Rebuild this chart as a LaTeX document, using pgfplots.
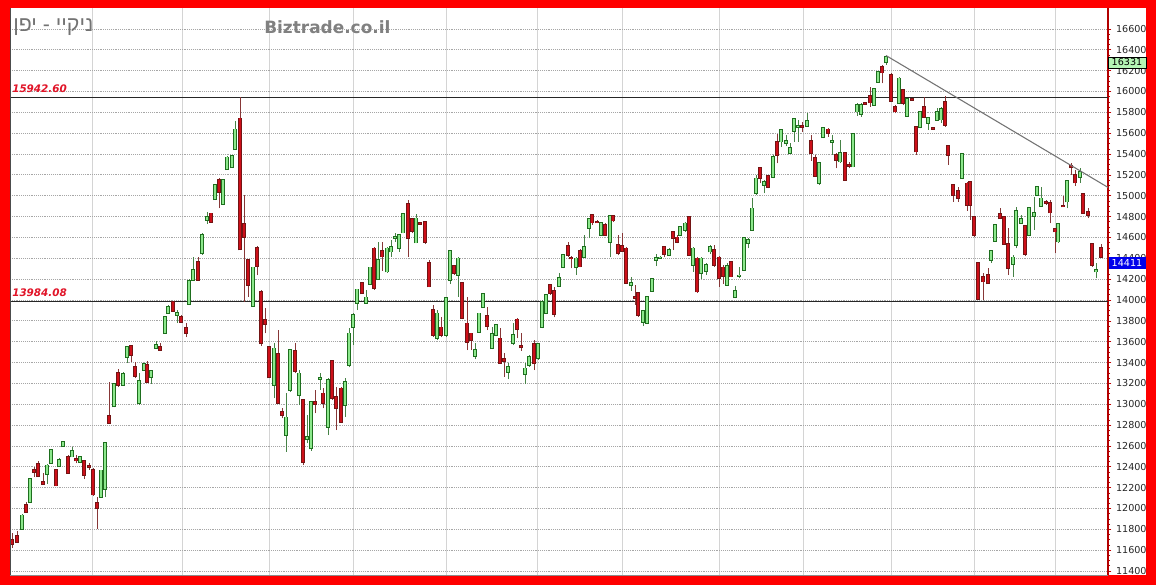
\documentclass[border=0pt]{standalone}
\usepackage{pgfplots}
\pgfplotsset{compat=1.18}
\usepackage{pgfplotstable}
\usepackage{fontspec}
\setmainfont{DejaVu Sans}
\newfontfamily\hebfont[Script=Hebrew]{Liberation Sans}
\TeXXeTstate=1
\definecolor{gfill}{RGB}{140,232,140}
\definecolor{gdark}{RGB}{30,110,30}
\definecolor{gwick}{RGB}{70,130,70}
\definecolor{rfill}{RGB}{205,15,25}
\definecolor{rdark}{RGB}{115,20,20}
\definecolor{rwick}{RGB}{135,55,55}
\definecolor{frame}{RGB}{255,0,0}
\definecolor{labred}{RGB}{225,20,40}
\definecolor{boxgreen}{RGB}{180,245,180}
\definecolor{boxblue}{RGB}{0,0,235}

\pgfplotstableread{
t o h l c
22 11806 11943 11800 11933
30 12063 12292 12060 12282
47 12330 12425 12238 12413
51 12435 12571 12429 12565
59 12403 12483 12397 12467
63 12597 12648 12594 12638
72 12498 12594 12492 12553
80 12449 12505 12442 12498
101 12111 12371 12102 12365
105 12187 12638 12108 12632
114 12979 13200 12970 13194
123 13184 13308 13175 13288
127 13453 13550 13395 13549
139 13012 13299 12993 13223
144 13328 13395 13319 13386
151 13261 13328 13194 13319
156 13539 13606 13530 13568
165 13683 13846 13674 13837
168 13875 13952 13875 13933
177 13856 13904 13779 13875
189 13961 14198 13952 14185
193 14191 14415 14185 14287
202 14447 14639 14432 14623
207 14767 14847 14729 14799
215 14965 15113 14959 15103
223 14920 15157 14911 15151
227 15253 15381 15247 15368
232 15272 15390 15265 15381
235 15445 15720 15439 15637
253 13942 14319 13936 14313
274 13184 13584 13056 13536
286 12704 13104 12544 12874
290 13136 13525 13120 13520
299 13088 13328 12992 13296
307 12662 12896 12625 12688
311 12576 13034 12554 13024
320 13241 13296 13136 13254
328 12784 13248 12704 13232
345 12992 13248 12880 13216
349 13376 13728 13354 13680
353 13744 13872 13568 13856
357 13974 14108 13904 14102
366 13974 14095 13968 14025
370 14153 14320 14145 14313
378 14198 14559 14192 14383
387 14272 14511 14262 14495
391 14464 14575 14415 14511
395 14592 14639 14559 14607
399 14495 14633 14464 14623
403 14646 14838 14639 14825
416 14550 14825 14543 14783
437 13632 13904 13616 13872
446 13664 14025 13642 14016
450 14192 14479 14153 14473
458 14240 14415 14032 14399
475 13463 13584 13430 13520
479 13696 13878 13688 13872
483 13936 14063 13929 14057
492 13536 13744 13526 13674
496 13664 13770 13650 13760
508 13312 13392 13239 13360
513 13584 13776 13568 13664
525 13290 13398 13194 13344
529 13376 13472 13360 13456
538 13440 13590 13425 13578
542 13744 14000 13728 13984
546 13878 14057 13865 14048
559 14134 14256 14128 14208
563 14313 14441 14304 14432
576 14313 14415 14240 14399
584 14409 14623 14399 14511
589 14687 14783 14591 14774
601 14623 14751 14614 14742
610 14559 14815 14409 14806
631 14141 14217 14089 14166
643 13792 13904 13750 13894
647 13782 14040 13770 14032
652 14089 14214 14080 14204
656 14384 14441 14326 14400
660 14403 14420 14395 14409
669 14432 14495 14422 14480
680 14623 14710 14614 14703
685 14671 14751 14655 14735
693 14336 14511 14272 14495
701 14256 14415 14198 14399
706 14281 14352 14240 14336
710 14464 14527 14441 14511
727 14144 14358 14134 14326
735 14025 14134 14016 14089
739 14230 14313 14208 14235
744 14288 14608 14281 14592
748 14544 14591 14495 14575
752 14671 14975 14665 14879
756 15029 15199 15007 15167
764 15103 15151 15023 15135
773 15183 15391 15167 15375
781 15519 15637 15471 15631
786 15509 15583 15477 15528
790 15413 15503 15407 15455
794 15624 15743 15519 15733
798 15656 15727 15519 15669
807 15669 15797 15660 15720
819 15119 15327 15103 15311
823 15560 15663 15550 15653
832 15515 15583 15391 15528
840 15327 15535 15317 15407
853 15279 15599 15273 15592
857 15807 15893 15765 15870
861 15784 15887 15759 15870
874 15870 16030 15861 16021
878 16094 16200 16085 16190
886 16280 16331 16255 16331
899 15886 16136 15880 16126
907 15765 15935 15759 15925
920 15656 15816 15647 15807
928 15701 15759 15631 15743
937 15727 15839 15720 15807
941 15730 15850 15700 15830
962 15167 15407 15158 15401
991 14384 14480 14358 14470
995 14569 14730 14560 14720
1013 14345 14431 14224 14409
1016 14528 14896 14496 14857
1021 14736 14815 14730 14774
1029 14624 14890 14614 14880
1034 14806 14991 14672 14838
1037 15007 15094 14998 15087
1041 14902 15087 14896 14975
1058 14560 14736 14550 14729
1067 14944 15152 14880 15145
1080 15183 15263 15126 15231
1096 14272 14352 14208 14292
}\greencandles

\pgfplotstableread{
t o h l c
12 11695 11762 11625 11657
17 11736 11784 11670 11679
26 12038 12067 11959 11968
34 12371 12397 12301 12349
38 12428 12460 12301 12308
43 12257 12340 12235 12238
56 12368 12378 12212 12219
68 12498 12514 12333 12340
76 12476 12514 12432 12459
84 12460 12467 12282 12323
89 12406 12435 12371 12394
93 12371 12387 12124 12133
97 12054 12111 11806 12000
109 12887 13213 12815 12820
118 13299 13338 13165 13184
131 13561 13565 13405 13474
135 13357 13405 13250 13271
147 13376 13415 13203 13213
160 13549 13587 13510 13520
173 13981 13990 13885 13894
181 13837 13856 13779 13789
186 13731 13779 13645 13683
198 14367 14415 14185 14191
211 14831 14837 14745 14751
219 15151 15167 14879 15039
240 15742 15943 14479 14485
244 14728 15007 13983 14607
248 14383 14390 14032 14143
257 14501 14517 14239 14325
261 14079 14095 13558 13584
265 13808 13920 13680 13766
269 13552 13560 13248 13257
278 13481 13712 13008 13014
282 12928 12960 12864 12896
295 13513 13584 13296 13321
303 13040 13046 12416 12448
315 13020 13136 12912 13000
323 13104 13152 12960 13014
332 13417 13425 13040 13056
336 13072 13168 12752 12960
341 13152 13170 12820 12832
362 14160 14176 14057 14063
374 14495 14505 14100 14112
382 14470 14559 14281 14416
408 14921 14959 14415 14591
412 14774 14783 14639 14665
420 14738 14751 14719 14726
425 14751 14761 14537 14559
429 14352 14384 14121 14128
433 13904 13952 13648 13664
441 13737 13840 13642 13664
454 14326 14336 14240 14262
462 14160 14166 13814 13824
467 13776 14025 13520 13600
471 13680 13686 13520 13616
487 13846 13936 13712 13750
500 13632 13728 13392 13398
504 13434 13494 13264 13418
517 13814 13824 13632 13718
521 13558 13680 13514 13545
534 13578 13616 13328 13392
550 14144 14154 14048 14064
554 14086 14128 13834 13865
568 14518 14559 14415 14431
571 14406 14422 14304 14397
580 14473 14486 14313 14320
592 14815 14825 14720 14742
597 14751 14767 14735 14742
605 14719 14735 14614 14623
613 14806 14815 14751 14761
618 14527 14623 14431 14447
622 14518 14646 14463 14473
626 14495 14511 14153 14166
635 14032 14144 13952 14016
638 14064 14070 13840 13856
664 14511 14518 14409 14441
673 14655 14665 14479 14591
677 14601 14623 14543 14559
689 14799 14806 14422 14431
697 14399 14409 14070 14080
714 14480 14527 14320 14336
719 14409 14422 14128 14208
723 14313 14336 14153 14230
731 14367 14377 14218 14224
760 15263 15279 15119 15167
768 15189 15199 15071 15087
777 15519 15592 15311 15391
802 15672 15711 15615 15662
811 15528 15583 15336 15413
815 15359 15391 15183 15189
828 15637 15647 15567 15605
836 15391 15407 15263 15343
845 15407 15413 15145 15151
849 15298 15327 15263 15285
865 15887 15900 15875 15880
870 15957 16040 15854 15893
882 16238 16254 16078 16181
891 16158 16174 15902 15912
895 15854 15870 15791 15807
903 16014 16021 15870 15886
912 15925 15935 15910 15918
916 15663 15669 15391 15423
924 15854 15944 15743 15752
933 15653 15660 15640 15643
945 15900 15960 15660 15680
948 15478 15487 15295 15391
953 15103 15113 14943 15007
958 15049 15087 14943 14975
967 15119 15135 14857 14912
970 15135 15145 14768 14912
974 14793 14800 14608 14624
978 14352 14358 14000 14006
983 14218 14256 14000 14176
988 14240 14304 14154 14160
1000 14825 14879 14774 14784
1004 14793 14800 14528 14537
1008 14537 14688 14240 14304
1025 14710 14720 14422 14441
1046 14944 14960 14912 14928
1050 14934 14960 14736 14838
1055 14678 14688 14448 14656
1063 14902 14998 14890 14896
1071 15286 15318 15199 15273
1075 15199 15247 15094 15126
1083 15017 15023 14825 14832
1088 14848 14880 14784 14816
1092 14537 14545 14320 14336
1101 14496 14537 14410 14411
}\redcandles

\begin{document}
\begin{tikzpicture}[x=1pt,y=1pt]
\useasboundingbox (0,0) rectangle (867,438.75);
\fill[frame] (0,0) rectangle (867,438.75);
\fill[white] (7.5,7.5) rectangle (859.5,432.75);
\begin{axis}[
  at={(7.5pt,7.5pt)}, anchor=south west, scale only axis,
  width=823.5pt, height=425.25pt,
  xmin=10, xmax=1108, ymin=11362, ymax=16801,
  axis x line*=bottom, axis y line*=right,
  x axis line style={draw=black!45, line width=0.6pt},
  y axis line style={draw=red!70!black, line width=0.8pt},
  xtick={92,182,269,353,446,537,622,719,803,891,974,1055},
  xticklabels={},
  major x tick style={draw=none},
  ytick={11400,11600,...,16600},
  scaled y ticks=false,
  minor y tick num=3,
  tick align=outside,
  major tick length=2.5pt, minor tick length=1.5pt,
  y tick style={draw=red!75!black, line width=0.5pt},
  yticklabel style={font=\fontsize{7.2}{8}\selectfont, text=black!85,
    /pgf/number format/fixed, /pgf/number format/1000 sep={}, /pgf/number format/assume math mode=true},
  grid=major,
  major x grid style={draw=black!17, line width=0.6pt},
  major y grid style={draw=black!35, densely dotted, line width=0.6pt},
]
% reference lines
\addplot[black!85, line width=0.8pt, forget plot] coordinates {(10,15942.6) (1108,15942.6)};
\addplot[black!85, line width=0.8pt, forget plot] coordinates {(10,13984.08) (1108,13984.08)};
% wicks
\addplot[draw=none, forget plot, error bars/.cd, y dir=plus, y explicit, error mark=none,
  error bar style={draw=gwick, line width=0.6pt}]
  table[x=t, y=l, y error plus expr=\thisrow{h}-\thisrow{l}] \greencandles;
\addplot[draw=none, forget plot, error bars/.cd, y dir=plus, y explicit, error mark=none,
  error bar style={draw=rwick, line width=0.6pt}]
  table[x=t, y=l, y error plus expr=\thisrow{h}-\thisrow{l}] \redcandles;
% bodies outline
\addplot[draw=none, forget plot, error bars/.cd, y dir=plus, y explicit, error mark=none,
  error bar style={draw=gdark, line width=2.9pt}]
  table[x=t, y expr=\thisrow{o}-8, y error plus expr=\thisrow{c}-\thisrow{o}+16] \greencandles;
\addplot[draw=none, forget plot, error bars/.cd, y dir=plus, y explicit, error mark=none,
  error bar style={draw=rdark, line width=2.9pt}]
  table[x=t, y expr=\thisrow{c}-8, y error plus expr=\thisrow{o}-\thisrow{c}+16] \redcandles;
% bodies fill
\addplot[draw=none, forget plot, error bars/.cd, y dir=plus, y explicit, error mark=none,
  error bar style={draw=gfill, line width=1.7pt}]
  table[x=t, y=o, y error plus expr=\thisrow{c}-\thisrow{o}] \greencandles;
\addplot[draw=none, forget plot, error bars/.cd, y dir=plus, y explicit, error mark=none,
  error bar style={draw=rfill, line width=1.7pt}]
  table[x=t, y=c, y error plus expr=\thisrow{o}-\thisrow{c}] \redcandles;
% trend line
\addplot[black!55, line width=0.8pt, forget plot] coordinates {(886,16345) (1108,15080)};
\draw[black!70, line width=0.6pt] (rel axis cs:0,0) -- (rel axis cs:0,1);
\end{axis}
\node[anchor=base west, inner sep=0, text=labred, font=\bfseries\itshape\fontsize{7.8}{9}\selectfont] at (9,369) {15942.60};
\node[anchor=base west, inner sep=0, text=labred, font=\bfseries\itshape\fontsize{7.8}{9}\selectfont] at (9,216) {13984.08};
\node[anchor=west, inner sep=0, text=black!55, font=\hebfont\fontsize{16}{18}\selectfont] at (9.75,418.5) {\beginR ניקיי - יפן\endR};
\node[anchor=west, inner sep=0, text=black!50, font=\bfseries\fontsize{12.7}{14}\selectfont] at (198,418.5) {Biztrade.co.il};
\node[fill=boxgreen, draw=black, line width=0.5pt, minimum width=28.5pt, minimum height=8.25pt, inner sep=0, text=black, font=\fontsize{7.2}{8}\selectfont] at (845.25,391.9) {16331};
\node[fill=boxblue, draw=boxblue, line width=0.5pt, minimum width=27pt, minimum height=8.5pt, inner sep=0, text=white, font=\fontsize{7.2}{8}\selectfont] at (845.25,241.5) {14411};
\end{tikzpicture}
\end{document}
